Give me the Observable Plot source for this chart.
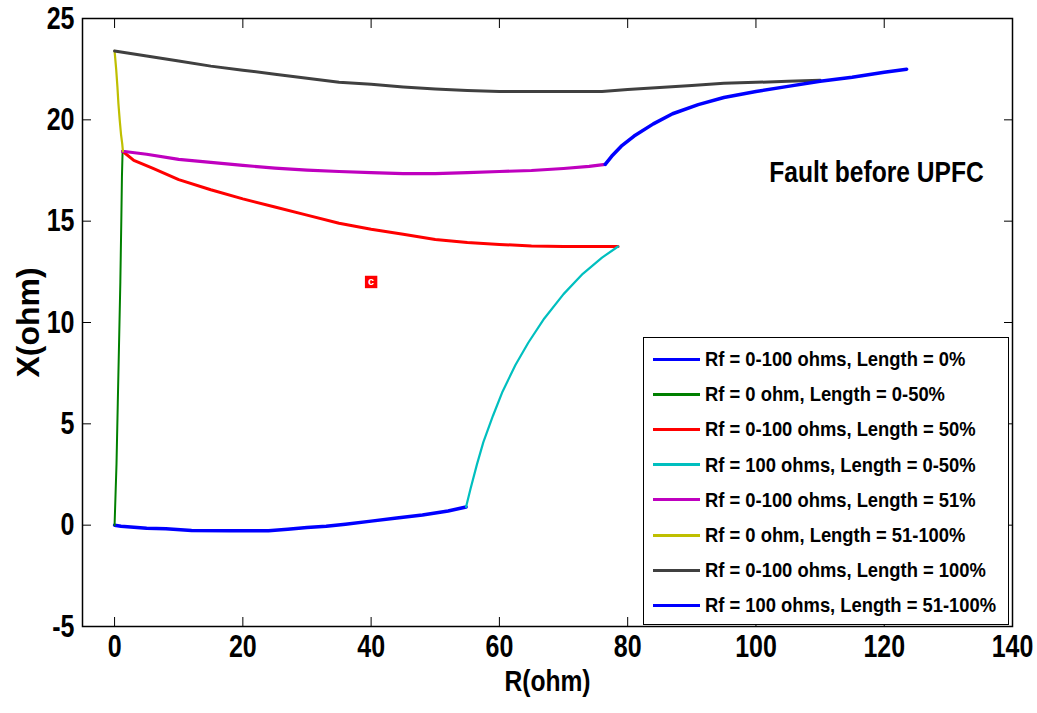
<!DOCTYPE html>
<html><head><meta charset="utf-8">
<script src="https://cdn.jsdelivr.net/npm/d3@7"></script>
<script src="https://cdn.jsdelivr.net/npm/@observablehq/plot@0.6"></script>
<style>
body{margin:0;background:#fff;}
#wrap{position:relative;width:1037px;height:713px;}
#legend{position:absolute;left:643px;top:337px;width:366px;height:288px;border:1.5px solid #000;background:#fff;box-sizing:border-box;font-family:"Liberation Sans",Arial,sans-serif;font-weight:bold;font-size:21px;color:#000;}
.row{position:absolute;left:0;height:30px;display:flex;align-items:center;white-space:nowrap;}
.sw{width:47px;height:3px;margin-left:9px;margin-right:5px;flex:none;}
.lt{display:inline-block;transform:scaleX(0.875);transform-origin:left center;}
</style></head><body><div id="wrap"></div>
<script>
const xTicks = [0, 20, 40, 60, 80, 100, 120, 140];
const yTicks = [-5, 0, 5, 10, 15, 20, 25];

const seriesNames = [
  "Rf = 0-100 ohms, Length = 0%",
  "Rf = 0 ohm, Length = 0-50%",
  "Rf = 0-100 ohms, Length = 50%",
  "Rf = 100 ohms, Length = 0-50%",
  "Rf = 0-100 ohms, Length = 51%",
  "Rf = 0 ohm, Length = 51-100%",
  "Rf = 0-100 ohms, Length = 100%",
  "Rf = 100 ohms, Length = 51-100%"
];
const seriesColors = ["#0000FF", "#008000", "#FF0000", "#00BFBF", "#BF00BF", "#BFBF00", "#404040", "#0000FF"];
const seriesWidths = [3.5, 2, 3, 2.2, 3.2, 2.2, 3, 3.5];

// [R, X] pairs
const len0 = [[0,0],[1,-0.05],[3,-0.1],[5,-0.15],[8,-0.18],[12,-0.26],[18,-0.27],[24,-0.27],[27,-0.2],[30,-0.12],[33,-0.05],[36,0.05],[40,0.2],[44,0.35],[48,0.5],[52,0.7],[54.8,0.9]];
const rf0len0to50 = [[0,0],[0.15,1.5],[0.3,3],[0.5,6],[0.7,9],[0.9,12],[1.05,15],[1.15,17.2],[1.25,18.45]];
const len50 = [[1.25,18.45],[3,18.0],[6,17.6],[10,17.05],[15,16.55],[20,16.1],[25,15.7],[30,15.3],[35,14.9],[40,14.6],[45,14.35],[50,14.1],[55,13.95],[60,13.85],[65,13.78],[70,13.75],[78.5,13.75]];
const rf100len0to50 = [[54.8,0.9],[55.5,1.8],[56.5,3],[57.5,4.1],[59,5.4],[60.5,6.6],[62.5,7.9],[64.5,9],[67,10.2],[70,11.4],[73,12.4],[76,13.2],[78.5,13.75]];
const len51 = [[1.25,18.45],[5,18.3],[10,18.05],[15,17.9],[20,17.75],[25,17.62],[30,17.52],[35,17.45],[40,17.4],[45,17.35],[50,17.35],[55,17.4],[60,17.45],[65,17.5],[70,17.6],[74,17.7],[76.5,17.8]];
const rf0len51to100 = [[0,23.4],[0.25,22.5],[0.45,21.6],[0.6,20.8],[0.8,20.0],[1.0,19.3],[1.2,18.8],[1.3,18.45]];
const len100 = [[0,23.4],[5,23.15],[10,22.9],[15,22.65],[20,22.45],[25,22.25],[30,22.05],[35,21.85],[40,21.75],[45,21.62],[50,21.52],[55,21.45],[60,21.4],[70,21.4],[76,21.4],[80,21.5],[85,21.6],[90,21.7],[95,21.8],[100,21.85],[105,21.9],[110,21.95]];
const rf100len51to100 = [[76.5,17.8],[77.5,18.2],[79,18.7],[81,19.2],[84,19.8],[87,20.3],[91,20.75],[95,21.1],[100,21.4],[105,21.65],[110,21.9],[115,22.1],[120,22.35],[123.5,22.5]];

const seriesData = [len0, rf0len0to50, len50, rf100len0to50, len51, rf0len51to100, len100, rf100len51to100];

const marker = [{R: 40, X: 12, label: "c"}];
const annotation = [{R: 118.8, X: 17.4, label: "Fault before UPFC"}];

const font = '"Liberation Sans",Arial,sans-serif';

const lineMarks = seriesData.map((d, i) => Plot.line(d, {
  x: p => p[0], y: p => p[1],
  stroke: seriesColors[i], strokeWidth: seriesWidths[i],
  strokeLinejoin: "round", strokeLinecap: "round"
}));

const chart = Plot.plot({
  width: 1037, height: 713,
  marginLeft: 82, marginRight: 25, marginTop: 18, marginBottom: 87,
  x: {domain: [-5, 140]},
  y: {domain: [-5, 25]},
  style: {fontFamily: font, fontWeight: "bold", fontSize: "30px", color: "#000", background: "#fff", overflow: "visible"},
  marks: [
    ...lineMarks,
    Plot.dot(marker, {x: "R", y: "X", symbol: "square", r: 7, fill: "#FF0000"}),
    Plot.text(marker, {x: "R", y: "X", text: "label", fill: "#fff", fontSize: 11, fontWeight: "bold", fontFamily: font}),
    Plot.text(annotation, {x: "R", y: "X", text: "label", fontSize: 30, fontWeight: "bold", fontFamily: font, fill: "#000", className: "narrow"}),
    Plot.axisX(xTicks, {anchor: "bottom", tickSize: 0, tickPadding: 8, label: null, fontSize: 32, tickFormat: d => String(d), className: "narrowtick"}),
    Plot.axisX(xTicks, {anchor: "bottom", tickSize: -9, tickFormat: () => "", label: null}),
    Plot.axisX(xTicks, {anchor: "top", tickSize: -9, tickFormat: () => "", label: null}),
    Plot.axisY(yTicks, {anchor: "left", tickSize: 0, tickPadding: 8, label: null, fontSize: 32, tickFormat: d => String(d), className: "narrowtick"}),
    Plot.axisY(yTicks, {anchor: "left", tickSize: -9, tickFormat: () => "", label: null}),
    Plot.axisY(yTicks, {anchor: "right", tickSize: -9, tickFormat: () => "", label: null}),
    Plot.frame({stroke: "#000", strokeWidth: 1.5}),
    Plot.text(["R(ohm)"], {frameAnchor: "bottom", dy: 64, fontSize: 30, fontWeight: "bold", fontFamily: font, className: "narrow"}),
    Plot.text(["X(ohm)"], {frameAnchor: "left", dx: -54, rotate: -90, textAnchor: "middle", fontSize: 32, fontWeight: "bold", fontFamily: font})
  ]
});

const wrap = document.getElementById("wrap");
wrap.appendChild(chart);

// condense texts (reference uses a narrow bold face)
const svg = wrap.querySelector("svg");
function condense(sel, k) {
  svg.querySelectorAll(sel).forEach(t => {
    if (!t.textContent) return;
    const w = t.getComputedTextLength();
    t.setAttribute("textLength", (w * k).toFixed(1));
    t.setAttribute("lengthAdjust", "spacingAndGlyphs");
  });
}
condense("[class*='narrowtick'] text", 0.78);
condense("[class$='narrow'] text, text[class$='narrow']", 0.82);

const legend = document.createElement("div");
legend.id = "legend";
seriesNames.forEach((name, i) => {
  const row = document.createElement("div");
  row.className = "row";
  row.style.top = (6 + i * 35.2) + "px";
  const sw = document.createElement("div");
  sw.className = "sw";
  sw.style.background = seriesColors[i];
  const t = document.createElement("span");
  t.className = "lt";
  t.textContent = name;
  row.appendChild(sw);
  row.appendChild(t);
  legend.appendChild(row);
});
wrap.appendChild(legend);
</script>
</body></html>
